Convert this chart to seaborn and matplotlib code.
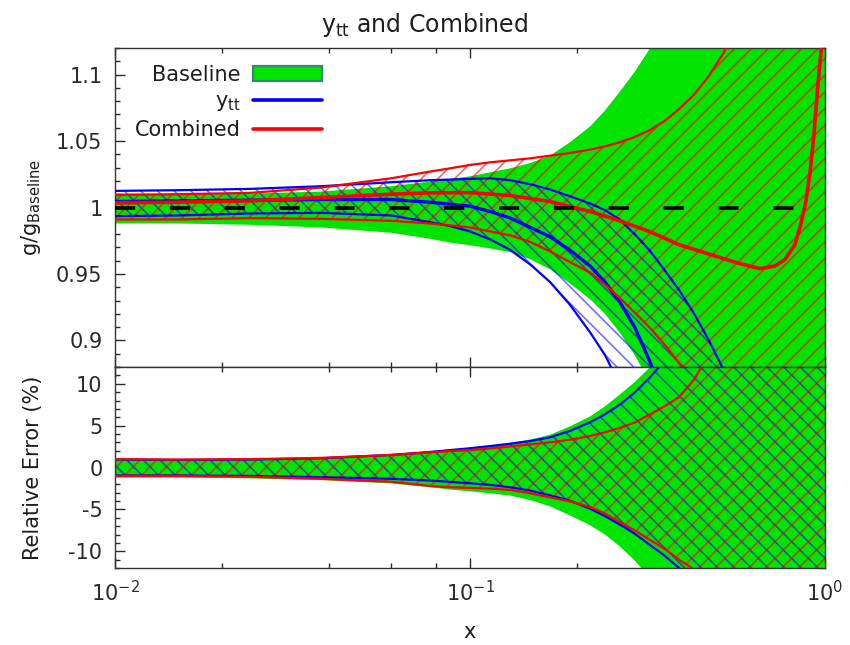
import matplotlib
matplotlib.use("Agg")
import matplotlib.pyplot as plt
import seaborn as sns
import pandas as pd
from matplotlib.patches import Patch
from matplotlib.lines import Line2D
from matplotlib.ticker import LogLocator, MultipleLocator, NullFormatter

# ---- data -------------------------------------------------------------
x_nodes = [0.01, 0.015, 0.024, 0.038, 0.06, 0.077, 0.088, 0.1, 0.114, 0.13,
           0.148, 0.168, 0.191, 0.218, 0.24, 0.264, 0.291, 0.32, 0.353, 0.388,
           0.428, 0.471, 0.52, 0.571, 0.69, 0.84, 1.0]

# relative uncertainties (%)
baseline_err_up = [1.05, 1.0, 1.05, 1.2, 1.6, 1.95, 2.15, 2.35, 2.65, 2.95,
                   3.35, 3.9, 4.9, 6.1, 7.3, 8.7, 10.2, 11.9, 13.8, 16,
                   18.5, 21, 24, 28, 37, 48, 60]
baseline_err_dn = [-1.2, -1.2, -1.3, -1.5, -1.9, -2.35, -2.64, -2.84, -3.08, -3.36,
                   -3.9, -4.64, -5.7, -6.9, -8.0, -9.4, -11.1, -13.1, -15.5, -18,
                   -21, -24, -27.5, -31, -41, -54, -66]
ytt_err_up = [0.95, 0.9, 0.95, 1.1, 1.5, 1.85, 2.08, 2.3, 2.56, 2.84,
              3.16, 3.6, 4.36, 5.4, 6.35, 7.5, 8.95, 10.7, 12.7, 14.8,
              17, 19.5, 22, 25, 32, 41, 50]
ytt_err_dn = [-0.95, -0.95, -1.0, -1.15, -1.35, -1.55, -1.72, -1.88, -2.08, -2.36,
              -2.76, -3.32, -3.96, -4.92, -5.8, -6.8, -7.9, -9.2, -10.5, -12.0,
              -13.6, -15.3, -17, -19, -24, -30, -36]
comb_err_up = [1.0, 0.95, 1.0, 1.15, 1.5, 1.8, 1.96, 2.08, 2.28, 2.52,
               2.76, 3.0, 3.32, 3.76, 4.2, 4.72, 5.36, 6.3, 7.3, 8.4,
               10.5, 13.5, 15.5, 17.5, 22, 29, 36]
comb_err_dn = [-1.0, -1.0, -1.1, -1.35, -1.7, -2.2, -2.36, -2.44, -2.52, -2.68,
               -3.08, -3.56, -4.04, -4.72, -5.5, -6.5, -7.5, -8.6, -9.7, -11.0,
               -12.2, -13.5, -15, -16.5, -20, -25, -30]

# gluon ratio to the baseline fit
ytt_ratio_up = [1.0125, 1.013, 1.014, 1.016, 1.019, 1.0205, 1.021, 1.0215, 1.022, 1.0205,
                1.0175, 1.0135, 1.0085, 1.003, 0.998, 0.991, 0.98, 0.968, 0.953, 0.938,
                0.92, 0.9, 0.877, 0.85, 0.77, 0.68, 0.6]
ytt_ratio_mid = [1.0045, 1.005, 1.0055, 1.006, 1.006, 1.004, 1.0025, 1.001, 0.997, 0.992,
                 0.985, 0.978, 0.968, 0.956, 0.944, 0.929, 0.91, 0.885, 0.855, 0.82,
                 0.78, 0.74, 0.70, 0.65, 0.55, 0.45, 0.36]
ytt_ratio_dn = [0.9935, 0.994, 0.9955, 0.996, 0.994, 0.989, 0.986, 0.982, 0.976, 0.968,
                0.957, 0.944, 0.927, 0.906, 0.889, 0.867, 0.84, 0.81, 0.78, 0.745,
                0.71, 0.67, 0.63, 0.59, 0.5, 0.41, 0.33]
comb_ratio_up = [1.0095, 1.010, 1.011, 1.015, 1.022, 1.027, 1.0295, 1.032, 1.034, 1.0355,
                 1.037, 1.039, 1.041, 1.0435, 1.046, 1.049, 1.053, 1.058, 1.065, 1.074,
                 1.085, 1.099, 1.117, 1.14, 1.2, 1.28, 1.36]
comb_ratio_dn = [0.991, 0.991, 0.992, 0.9915, 0.990, 0.988, 0.9865, 0.985, 0.982, 0.979,
                 0.974, 0.967, 0.959, 0.951, 0.942, 0.932, 0.921, 0.91, 0.897, 0.883,
                 0.866, 0.848, 0.83, 0.81, 0.76, 0.70, 0.64]

comb_mid_x = [0.01, 0.015, 0.024, 0.038, 0.06, 0.077, 0.1, 0.13, 0.168, 0.218,
              0.264, 0.32, 0.388, 0.471, 0.571, 0.656, 0.723, 0.772, 0.823, 0.856,
              0.884, 0.907, 0.931, 0.956, 0.981, 1.0]
comb_ratio_mid = [1.0035, 1.004, 1.005, 1.0075, 1.010, 1.011, 1.0112, 1.009, 1.0045, 0.997,
                  0.990, 0.982, 0.972, 0.965, 0.958, 0.954, 0.956, 0.961, 0.972, 0.988,
                  1.005, 1.026, 1.055, 1.094, 1.125, 1.15]

reference_ratio = 1.0

top_ticks = [0.9, 0.95, 1.0, 1.05, 1.1]
top_tick_labels = ["0.9", "0.95", "1", "1.05", "1.1"]
bottom_ticks = [-10, -5, 0, 5, 10]
bottom_tick_labels = ["-10", "-5", "0", "5", "10"]

# ---- style ------------------------------------------------------------
sns.set_theme(style="ticks")
plt.rcParams["font.family"] = ["DejaVu Sans"]
plt.rcParams["hatch.linewidth"] = 1.2
plt.rcParams["lines.scale_dashes"] = False
plt.rcParams["axes.edgecolor"] = "#333333"
plt.rcParams["text.color"] = "#1e1e1e"
plt.rcParams["axes.labelcolor"] = "#1e1e1e"
plt.rcParams["xtick.color"] = "#2a2a2a"
plt.rcParams["ytick.color"] = "#2a2a2a"

GREEN = "#00e400"
BLUE = "#0000ff"
RED = "#ff0000"
HATCH_A = "//"
HATCH_B = "\\\\"

fig = plt.figure(figsize=(8.5, 6.45), dpi=100)
ax_top = fig.add_axes([115 / 850, 1 - 367 / 645, 710 / 850, 319 / 645])
ax_bot = fig.add_axes([115 / 850, 1 - 568 / 645, 710 / 850, 201 / 645], sharex=ax_top)

df = pd.DataFrame({
    "x": x_nodes,
    "base_up": [1 + v / 100 for v in baseline_err_up],
    "base_dn": [1 + v / 100 for v in baseline_err_dn],
    "ytt_up": ytt_ratio_up, "ytt_mid": ytt_ratio_mid, "ytt_dn": ytt_ratio_dn,
    "comb_up": comb_ratio_up, "comb_dn": comb_ratio_dn,
    "e_base_up": baseline_err_up, "e_base_dn": baseline_err_dn,
    "e_ytt_up": ytt_err_up, "e_ytt_dn": ytt_err_dn,
    "e_comb_up": comb_err_up, "e_comb_dn": comb_err_dn,
})
df_mid = pd.DataFrame({"x": comb_mid_x, "comb_mid": comb_ratio_mid})


def band(ax, lo, hi, color, hatch, alpha):
    ax.fill_between(df["x"], df[lo], df[hi], facecolor="none", edgecolor=color,
                    hatch=hatch, linewidth=0, alpha=alpha, zorder=2)


def curve(ax, data, col, color, lw, z):
    sns.lineplot(data=data, x="x", y=col, ax=ax, color=color, linewidth=lw,
                 estimator=None, zorder=z, legend=False)


# ---- upper panel: ratio ---------------------------------------------
ax = ax_top
ax.set_xscale("log")
ax.fill_between(df["x"], df["base_dn"], df["base_up"], color=GREEN, linewidth=0, zorder=1)
band(ax, "ytt_dn", "ytt_up", BLUE, HATCH_B, 0.55)
band(ax, "comb_dn", "comb_up", RED, HATCH_A, 0.6)
for col in ["ytt_up", "ytt_dn"]:
    curve(ax, df, col, BLUE, 1.6, 4)
curve(ax, df, "ytt_mid", BLUE, 2.4, 4)
for col in ["comb_up", "comb_dn"]:
    curve(ax, df, col, RED, 1.6, 5)
curve(ax, df_mid, "comb_mid", RED, 2.6, 5)
ax.axhline(reference_ratio, color="black", linewidth=2.6, dashes=(14.5, 25), zorder=6)

ax.set_ylim(0.88, 1.12)
ax.set_yticks(top_ticks)
ax.set_yticklabels(top_tick_labels)
ax.yaxis.set_minor_locator(MultipleLocator(0.01))
ax.set_ylabel("g/g$_{\\mathrm{Baseline}}$", fontsize=15)
ax.yaxis.set_label_coords(-0.102, 0.5)
ax.set_xlabel("")

handles = [
    Patch(facecolor=GREEN, edgecolor="#2e8b6a", linewidth=1.6),
    Line2D([], [], color=BLUE, linewidth=2.6),
    Line2D([], [], color=RED, linewidth=2.6),
]
ax.legend(handles, ["Baseline", "y$_{\\mathrm{tt}}$", "Combined"], loc="upper right",
          bbox_to_anchor=(0.3085, 0.987), frameon=False, markerfirst=False, fontsize=15,
          handlelength=3.3, handletextpad=0.6, labelspacing=0.32, borderaxespad=0.3,
          borderpad=0.3)

# ---- lower panel: relative error --------------------------------------
ax = ax_bot
ax.fill_between(df["x"], df["e_base_dn"], df["e_base_up"], color=GREEN, linewidth=0, zorder=1)
band(ax, "e_ytt_dn", "e_ytt_up", BLUE, HATCH_B, 0.55)
band(ax, "e_comb_dn", "e_comb_up", RED, HATCH_A, 0.6)
for col in ["e_ytt_up", "e_ytt_dn"]:
    curve(ax, df, col, BLUE, 1.6, 4)
for col in ["e_comb_up", "e_comb_dn"]:
    curve(ax, df, col, RED, 1.6, 5)
ax.set_ylim(-12, 12)
ax.set_yticks(bottom_ticks)
ax.set_yticklabels(bottom_tick_labels)
ax.yaxis.set_minor_locator(MultipleLocator(1))
ax.set_ylabel("Relative Error (%)", fontsize=15)
ax.yaxis.set_label_coords(-0.102, 0.5)
ax.set_xlabel("x", fontsize=15, labelpad=12)

ax.set_xlim(0.01, 1.0)
for a in (ax_top, ax_bot):
    a.xaxis.set_major_locator(LogLocator(base=10, numticks=10))
    a.xaxis.set_minor_locator(LogLocator(base=10, subs=(2, 4, 6, 8), numticks=10))
    a.xaxis.set_minor_formatter(NullFormatter())
    a.tick_params(which="both", direction="in", top=True, right=True, width=1,
                  labelsize=15, pad=9)
    a.tick_params(which="major", length=7)
    a.tick_params(which="minor", length=3.5)
    for s in a.spines.values():
        s.set_linewidth(1.0)
plt.setp(ax_top.get_xticklabels(), visible=False)

fig.text(0.5, 1 - 25 / 645, "y$_{\\mathrm{tt}}$ and Combined", ha="center", va="center",
         fontsize=17)

fig.savefig("out.png", dpi=100)
